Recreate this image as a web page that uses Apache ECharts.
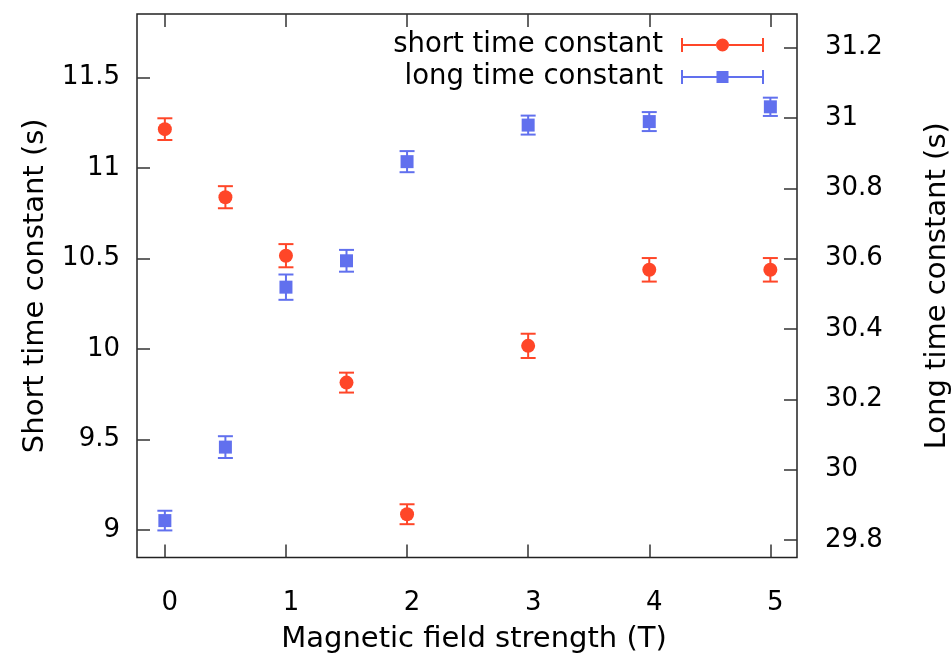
<!DOCTYPE html>
<html>
<head>
<meta charset="utf-8">
<script src="https://cdn.jsdelivr.net/npm/echarts@6/dist/echarts.min.js"></script>
<style>
html,body{margin:0;padding:0;background:#fff;}
#chart{width:951px;height:653px;}
</style>
</head>
<body>
<div id="chart"></div>
<script>
// ---- data ----
var fieldStrength = [0, 0.5, 1, 1.5, 2, 3, 4, 5];
var shortTau      = [11.214, 10.838, 10.515, 9.814, 9.087, 10.017, 10.437, 10.437];
var shortTauErr   = [0.060, 0.061, 0.064, 0.055, 0.055, 0.067, 0.065, 0.065];
var longTau       = [29.855, 30.064, 30.519, 30.594, 30.876, 30.980, 30.990, 31.032];
var longTauErr    = [0.028, 0.031, 0.036, 0.031, 0.030, 0.027, 0.027, 0.026];
var xTicks     = [0, 1, 2, 3, 4, 5];
var leftTicks  = [9, 9.5, 10, 10.5, 11, 11.5];
var rightTicks = [29.8, 30, 30.2, 30.4, 30.6, 30.8, 31, 31.2];
var seriesNames = ['short time constant', 'long time constant'];
var axisTitles = ['Magnetic field strength (T)', 'Short time constant (s)', 'Long time constant (s)'];

// ---- styles ----
var RED = '#ff4628';
var BLUE = '#6170ee';
var FONT = 'DejaVu Sans';

function pairs(xs, ys) { return xs.map(function (x, i) { return [x, ys[i]]; }); }
function errData(xs, ys, es) { return xs.map(function (x, i) { return [x, ys[i] - es[i], ys[i] + es[i]]; }); }

function errRender(color) {
  return function (params, api) {
    var lo = api.coord([api.value(0), api.value(1)]);
    var hi = api.coord([api.value(0), api.value(2)]);
    var hw = 7.5;
    var st = { stroke: color, lineWidth: 2 };
    return {
      type: 'group',
      children: [
        { type: 'line', shape: { x1: lo[0], y1: lo[1], x2: hi[0], y2: hi[1] }, style: st },
        { type: 'line', shape: { x1: lo[0] - hw, y1: lo[1], x2: lo[0] + hw, y2: lo[1] }, style: st },
        { type: 'line', shape: { x1: hi[0] - hw, y1: hi[1], x2: hi[0] + hw, y2: hi[1] }, style: st }
      ]
    };
  };
}

var redIcon = 'path://M0,0H2V14H0Z M81,0H83V14H81Z M2,6H35V8H2Z M48,6H81V8H48Z M35,7A6.5,6.5 0 1,1 48,7A6.5,6.5 0 1,1 35,7Z';
var blueIcon = 'path://M0,0H2V14H0Z M81,0H83V14H81Z M2,6H35.5V8H2Z M47.5,6H81V8H47.5Z M35.5,1H47.5V13H35.5Z';

var tickLine = { color: '#333', width: 1.5 };
var labelStyle = { color: '#000', fontFamily: FONT, fontSize: 26 };
var titleStyle = { color: '#000', fontFamily: FONT, fontSize: 29 };

var chart = echarts.init(document.getElementById('chart'), null, { renderer: 'canvas' });
chart.setOption({
  animation: false,
  backgroundColor: '#fff',
  grid: {
    left: 137, right: 154, top: 14, bottom: 95.5,
    outerBoundsMode: 'none', containLabel: false,
    show: true, borderColor: '#222', borderWidth: 1.5, backgroundColor: 'transparent'
  },
  legend: {
    orient: 'vertical',
    align: 'right',
    right: 182,
    top: 26,
    itemWidth: 83,
    itemHeight: 14,
    itemGap: 4,
    textStyle: { color: '#000', fontFamily: FONT, fontSize: 27.5, lineHeight: 28, padding: [0, 13, 0, 0] },
    data: [
      { name: seriesNames[0], icon: redIcon, itemStyle: { color: RED } },
      { name: seriesNames[1], icon: blueIcon, itemStyle: { color: BLUE } }
    ]
  },
  xAxis: [
    {
      type: 'value', position: 'bottom', min: -0.23, max: 5.22,
      name: axisTitles[0], nameLocation: 'middle', nameGap: 67,
      nameTextStyle: Object.assign({ padding: [0, 0, 0, 14] }, titleStyle),
      axisLine: { show: false, onZero: false },
      splitLine: { show: false },
      axisTick: { show: true, inside: true, length: 13, customValues: xTicks, lineStyle: tickLine },
      axisLabel: Object.assign({ margin: 33, customValues: xTicks, padding: [0, 0, 0, 10] }, labelStyle)
    },
    {
      type: 'value', position: 'top', min: -0.23, max: 5.22,
      axisLine: { show: false, onZero: false },
      splitLine: { show: false },
      axisTick: { show: true, inside: true, length: 13, customValues: xTicks, lineStyle: tickLine },
      axisLabel: { show: false }
    }
  ],
  yAxis: [
    {
      type: 'value', position: 'left', min: 8.848, max: 11.85,
      name: axisTitles[1], nameLocation: 'middle', nameGap: 87, nameRotate: 90,
      nameTextStyle: titleStyle,
      axisLine: { show: false, onZero: false },
      splitLine: { show: false },
      axisTick: { show: true, inside: true, length: 13, customValues: leftTicks, lineStyle: tickLine },
      axisLabel: Object.assign({ margin: 17, customValues: leftTicks }, labelStyle)
    },
    {
      type: 'value', position: 'right', min: 29.75, max: 31.296,
      name: axisTitles[2], nameLocation: 'middle', nameGap: 126, nameRotate: 90,
      nameTextStyle: titleStyle,
      axisLine: { show: false, onZero: false },
      splitLine: { show: false },
      axisTick: { show: true, inside: true, length: 13, customValues: rightTicks, lineStyle: tickLine },
      axisLabel: Object.assign({ margin: 28, customValues: rightTicks }, labelStyle)
    }
  ],
  series: [
    {
      name: seriesNames[0], type: 'custom', xAxisIndex: 0, yAxisIndex: 0,
      renderItem: errRender(RED), data: errData(fieldStrength, shortTau, shortTauErr),
      encode: { x: 0, y: [1, 2] }, itemStyle: { color: RED }, z: 2, silent: true
    },
    {
      name: seriesNames[0], type: 'scatter', xAxisIndex: 0, yAxisIndex: 0,
      data: pairs(fieldStrength, shortTau), symbol: 'circle', symbolSize: 14,
      itemStyle: { color: RED, opacity: 1 }, z: 3
    },
    {
      name: seriesNames[1], type: 'custom', xAxisIndex: 0, yAxisIndex: 1,
      renderItem: errRender(BLUE), data: errData(fieldStrength, longTau, longTauErr),
      encode: { x: 0, y: [1, 2] }, itemStyle: { color: BLUE }, z: 2, silent: true
    },
    {
      name: seriesNames[1], type: 'scatter', xAxisIndex: 0, yAxisIndex: 1,
      data: pairs(fieldStrength, longTau), symbol: 'rect', symbolSize: 13,
      itemStyle: { color: BLUE, opacity: 1 }, z: 3
    }
  ]
});
</script>
</body>
</html>
